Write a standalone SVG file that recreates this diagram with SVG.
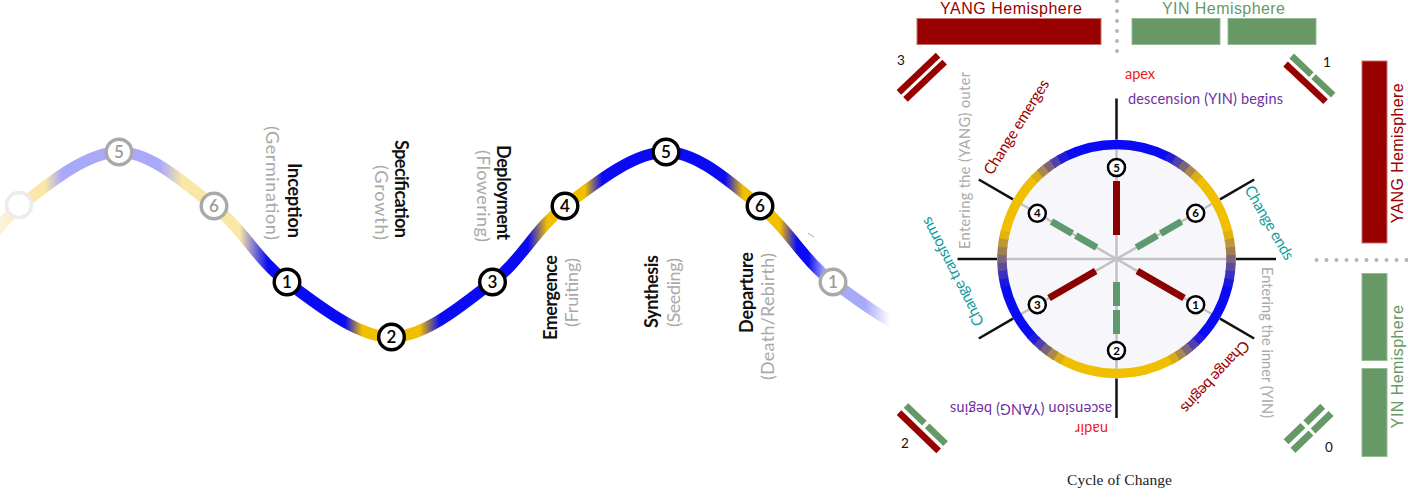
<svg xmlns="http://www.w3.org/2000/svg" width="1408" height="497" viewBox="0 0 1408 497">
<style>
.wl{font-family:Lato,"Open Sans","Noto Sans",sans-serif;font-size:18px}
.b{font-weight:700;fill:#111}
.g{fill:#a9a9a9}
.wn circle{fill:#fff;stroke:#000;stroke-width:3.4}
.wn text{font-family:Lato,"Noto Sans",sans-serif;font-size:17px;font-weight:600;text-anchor:middle;fill:#000}
.wf circle{fill:#fff;stroke:#a9a9a9;stroke-width:3.4}
.wf text{font-family:Lato,"Noto Sans",sans-serif;font-size:17px;font-weight:600;text-anchor:middle;fill:#9a9a9a}
.rs{fill:none;stroke-width:9.5}
.spoke{stroke:#c2c2c2;stroke-width:2.5}
.tick{stroke:#111;stroke-width:2.5}
.yang{stroke:#8b0000;stroke-width:7}
.yin{stroke:#5f9a6f;stroke-width:7}
.rn circle{fill:#fff;stroke:#000;stroke-width:2.5}
.rn text{font-family:Lato,"Noto Sans",sans-serif;font-size:11.5px;font-weight:700;text-anchor:middle;fill:#000}
.cl{font-family:Lato,"Open Sans","Noto Sans",sans-serif;font-size:14.5px}
.cl15{font-family:Lato,"Open Sans","Noto Sans",sans-serif;font-size:15.5px}
.hs{font-family:"Liberation Sans",Arial,sans-serif;font-size:16px}
.rbar{fill:#990000;stroke:#c87070;stroke-width:1}
.gbar{fill:#669966;stroke:#94bb94;stroke-width:1}
.rd{fill:#990000}
.gd{fill:#669966}
.dots{stroke:#b5b5b5;stroke-width:4;stroke-linecap:round;stroke-dasharray:0 10}
.num{font-family:Lato,"Noto Sans",sans-serif;font-size:13.5px;fill:#111}
</style>
<defs>
<linearGradient id="waveGrad" gradientUnits="userSpaceOnUse" x1="0" y1="0" x2="1000" y2="0">
<stop offset="0" stop-color="#fbf4dc"/>
<stop offset="0.035" stop-color="#f8e7a6"/>
<stop offset="0.045" stop-color="#f8e7a6"/>
<stop offset="0.062" stop-color="#a9a9fa"/>
<stop offset="0.160" stop-color="#a9a9fa"/>
<stop offset="0.182" stop-color="#f8e7a6"/>
<stop offset="0.240" stop-color="#f8e7a6"/>
<stop offset="0.268" stop-color="#0a0af5"/>
<stop offset="0.345" stop-color="#0a0af5"/>
<stop offset="0.362" stop-color="#efbf00"/>
<stop offset="0.420" stop-color="#efbf00"/>
<stop offset="0.440" stop-color="#0a0af5"/>
<stop offset="0.528" stop-color="#0a0af5"/>
<stop offset="0.547" stop-color="#efbf00"/>
<stop offset="0.585" stop-color="#efbf00"/>
<stop offset="0.602" stop-color="#0a0af5"/>
<stop offset="0.725" stop-color="#0a0af5"/>
<stop offset="0.743" stop-color="#efbf00"/>
<stop offset="0.780" stop-color="#efbf00"/>
<stop offset="0.797" stop-color="#0a0af5"/>
<stop offset="0.808" stop-color="#0a0af5"/>
<stop offset="0.825" stop-color="#a9a9fa"/>
<stop offset="0.865" stop-color="#a9a9fa"/>
<stop offset="0.890" stop-color="#ffffff"/>
<stop offset="1" stop-color="#ffffff"/>
</linearGradient>
</defs>
<rect x="0" y="0" width="1408" height="497" fill="#fff"/>

<g id="connectors">
<path id="wave" d="M -48 282 C -18.7 260.2 -7.8 227.7 20 206 C 47.8 184.3 86.7 152 119 152 C 151.3 152 186 184.3 214 206 C 242 227.7 257.4 260.2 287 282 C 316.6 303.8 357.25 337 391.5 337 C 425.75 337 463.6 303.8 492.5 282 C 521.4 260.2 536.1 227.7 565 206 C 593.9 184.3 633.5 152 666 152 C 698.5 152 732.2 184.3 760 206 C 787.8 227.7 803 260.2 833 282 C 863 303.8 904.7 337 940 337" fill="none" stroke="url(#waveGrad)" stroke-width="11.5"/>
<line x1="808" y1="233" x2="814" y2="237" stroke="#c4c4c4" stroke-width="1.5"/>
</g>

<g id="wave-node-start"><circle cx="19" cy="205" r="12.5" fill="#fff" stroke="#ececec" stroke-width="3.5"/></g>
<g id="wave-node-5-faded" class="wf"><circle cx="119" cy="152" r="12.8"/><text x="119" y="158">5</text></g>
<g id="wave-node-6-faded" class="wf"><circle cx="214" cy="206" r="12.8"/><text x="214" y="212">6</text></g>
<g id="wave-node-1" class="wn"><circle cx="287" cy="282" r="12.8"/><text x="287" y="288">1</text></g>
<g id="wave-node-2" class="wn"><circle cx="391.5" cy="337" r="12.8"/><text x="391.5" y="343">2</text></g>
<g id="wave-node-3" class="wn"><circle cx="492.5" cy="282" r="12.8"/><text x="492.5" y="288">3</text></g>
<g id="wave-node-4" class="wn"><circle cx="565" cy="206" r="12.8"/><text x="565" y="212">4</text></g>
<g id="wave-node-5" class="wn"><circle cx="666" cy="152" r="12.8"/><text x="666" y="158">5</text></g>
<g id="wave-node-6" class="wn"><circle cx="760" cy="206" r="12.8"/><text x="760" y="212">6</text></g>
<g id="wave-node-1-faded" class="wf"><circle cx="833" cy="282" r="12.8"/><text x="833" y="288">1</text></g>

<g id="wave-labels" class="wl">
<text class="b" transform="translate(288,163) rotate(90)" textLength="75">Inception</text>
<text class="g" transform="translate(266,126) rotate(90)" textLength="114">(Germination)</text>
<text class="b" transform="translate(395,140) rotate(90)" textLength="98">Specification</text>
<text class="g" transform="translate(375,165) rotate(90)" textLength="75">(Growth)</text>
<text class="b" transform="translate(497,145) rotate(90)" textLength="95">Deployment</text>
<text class="g" transform="translate(477,150) rotate(90)" textLength="92">(Flowering)</text>
<text class="b" transform="translate(557,340) rotate(-90)" textLength="85">Emergence</text>
<text class="g" transform="translate(578,327) rotate(-90)" textLength="69">(Fruiting)</text>
<text class="b" transform="translate(658,328) rotate(-90)" textLength="73">Synthesis</text>
<text class="g" transform="translate(680,327) rotate(-90)" textLength="69">(Seeding)</text>
<text class="b" transform="translate(753,333) rotate(-90)" textLength="81">Departure</text>
<text class="g" transform="translate(774,380) rotate(-90)" textLength="127">(Death/Rebirth)</text>
</g>

<g id="hemisphere-top">
<text class="hs" x="1011" y="14" text-anchor="middle" fill="#990000" textLength="142">YANG Hemisphere</text>
<rect class="rbar" x="917" y="18.5" width="184" height="26"/>
<text class="hs" x="1223.5" y="14" text-anchor="middle" fill="#669966" textLength="123">YIN Hemisphere</text>
<rect class="gbar" x="1132" y="18.5" width="88" height="26"/>
<rect class="gbar" x="1228" y="18.5" width="88" height="26"/>
<line class="dots" x1="1117" y1="1" x2="1117" y2="61"/>
</g>
<g id="hemisphere-right">
<rect class="rbar" x="1362" y="61" width="25" height="182"/>
<text class="hs" transform="translate(1403,153.3) rotate(-90)" text-anchor="middle" fill="#990000" textLength="140">YANG Hemisphere</text>
<rect class="gbar" x="1362" y="273.5" width="25" height="87"/>
<rect class="gbar" x="1362" y="368.5" width="25" height="88"/>
<text class="hs" transform="translate(1403,366.7) rotate(-90)" text-anchor="middle" fill="#669966" textLength="123">YIN Hemisphere</text>
<line class="dots" x1="1316.5" y1="260" x2="1408" y2="260"/>
</g>

<g id="digram-3">
<g transform="translate(921.7,77.2) rotate(-43.5)">
<rect class="rd" x="-27" y="-8" width="54" height="6.6"/>
<rect class="rd" x="-27" y="1.6" width="54" height="6.6"/>
</g>
<text class="num" x="901" y="65" text-anchor="middle">3</text>
</g>
<g id="digram-1">
<g transform="translate(1309,79.2) rotate(43.3)">
<rect class="rd" x="-27.5" y="1.7" width="55" height="6.6"/>
<rect class="gd" x="-28.5" y="-8.3" width="27" height="6.6"/>
<rect class="gd" x="1.5" y="-8.3" width="27" height="6.6"/>
</g>
<text class="num" x="1327" y="67" text-anchor="middle">1</text>
</g>
<g id="digram-2">
<g transform="translate(922.3,428.2) rotate(44)">
<rect class="rd" x="-27.5" y="1.7" width="55" height="6.6"/>
<rect class="gd" x="-27.5" y="-8.3" width="25.5" height="6.6"/>
<rect class="gd" x="2" y="-8.3" width="25.5" height="6.6"/>
</g>
<text class="num" x="905" y="448" text-anchor="middle">2</text>
</g>
<g id="digram-0">
<g transform="translate(1308.2,428) rotate(-44)">
<rect class="gd" x="-25.5" y="-9" width="23.5" height="7"/>
<rect class="gd" x="2" y="-9" width="23.5" height="7"/>
<rect class="gd" x="-26.5" y="2" width="25" height="7"/>
<rect class="gd" x="1.5" y="2" width="25" height="7"/>
</g>
<text class="num" x="1329" y="452" text-anchor="middle">0</text>
</g>

<g id="cycle">
<circle cx="1116.5" cy="259" r="110" fill="#f7f7fb"/>
<g id="spokes">
<line class="spoke" x1="1116.5" y1="149" x2="1116.5" y2="369"/>
<line class="spoke" x1="1006.5" y1="259" x2="1226.5" y2="259"/>
<line class="spoke" x1="1021.2" y1="204" x2="1211.8" y2="314"/>
<line class="spoke" x1="1021.2" y1="314" x2="1211.8" y2="204"/>
</g>
<g id="lines">
<line class="yang" x1="1116.5" y1="181" x2="1116.5" y2="235"/>
<line class="yang" x1="1095.7" y1="271" x2="1049" y2="298"/>
<line class="yang" x1="1137.3" y1="271" x2="1184" y2="298"/>
<line class="yin" x1="1096.6" y1="247.5" x2="1075.8" y2="235.5"/>
<line class="yin" x1="1072.3" y1="233.5" x2="1051.5" y2="221.5"/>
<line class="yin" x1="1136.4" y1="247.5" x2="1157.2" y2="235.5"/>
<line class="yin" x1="1160.7" y1="233.5" x2="1181.5" y2="221.5"/>
<line class="yin" x1="1116.5" y1="282" x2="1116.5" y2="306"/>
<line class="yin" x1="1116.5" y1="310" x2="1116.5" y2="334"/>
</g>
<g id="ring">
<circle class="rs" cx="1116.5" cy="259" r="114.5" pathLength="360" stroke="#0a0af5" stroke-dasharray="52.7 307.3" stroke-dashoffset="-244"/>
<circle class="rs" cx="1116.5" cy="259" r="114.5" pathLength="360" stroke="#211cdc" stroke-dasharray="4.7 355.3" stroke-dashoffset="-296"/>
<circle class="rs" cx="1116.5" cy="259" r="114.5" pathLength="360" stroke="#4f40ac" stroke-dasharray="4.7 355.3" stroke-dashoffset="-300"/>
<circle class="rs" cx="1116.5" cy="259" r="114.5" pathLength="360" stroke="#7c647a" stroke-dasharray="4.7 355.3" stroke-dashoffset="-304"/>
<circle class="rs" cx="1116.5" cy="259" r="114.5" pathLength="360" stroke="#aa894a" stroke-dasharray="4.7 355.3" stroke-dashoffset="-308"/>
<circle class="rs" cx="1116.5" cy="259" r="114.5" pathLength="360" stroke="#d8ad18" stroke-dasharray="4.7 355.3" stroke-dashoffset="-312"/>
<circle class="rs" cx="1116.5" cy="259" r="114.5" pathLength="360" stroke="#efbf00" stroke-dasharray="30.7 329.3" stroke-dashoffset="-316"/>
<circle class="rs" cx="1116.5" cy="259" r="114.5" pathLength="360" stroke="#dfb211" stroke-dasharray="4.7 355.3" stroke-dashoffset="-346"/>
<circle class="rs" cx="1116.5" cy="259" r="114.5" pathLength="360" stroke="#be9834" stroke-dasharray="4.7 355.3" stroke-dashoffset="-350"/>
<circle class="rs" cx="1116.5" cy="259" r="114.5" pathLength="360" stroke="#9d7e58" stroke-dasharray="4.7 355.3" stroke-dashoffset="-354"/>
<circle class="rs" cx="1116.5" cy="259" r="114.5" pathLength="360" stroke="#7c647a" stroke-dasharray="4.7 355.3" stroke-dashoffset="-358"/>
<circle class="rs" cx="1116.5" cy="259" r="114.5" pathLength="360" stroke="#5c4b9e" stroke-dasharray="4.7 355.3" stroke-dashoffset="-2"/>
<circle class="rs" cx="1116.5" cy="259" r="114.5" pathLength="360" stroke="#3b31c1" stroke-dasharray="4.7 355.3" stroke-dashoffset="-6"/>
<circle class="rs" cx="1116.5" cy="259" r="114.5" pathLength="360" stroke="#1a17e4" stroke-dasharray="4.7 355.3" stroke-dashoffset="-10"/>
<circle class="rs" cx="1116.5" cy="259" r="114.5" pathLength="360" stroke="#0a0af5" stroke-dasharray="28.7 331.3" stroke-dashoffset="-14"/>
<circle class="rs" cx="1116.5" cy="259" r="114.5" pathLength="360" stroke="#211cdc" stroke-dasharray="4.7 355.3" stroke-dashoffset="-42"/>
<circle class="rs" cx="1116.5" cy="259" r="114.5" pathLength="360" stroke="#4f40ac" stroke-dasharray="4.7 355.3" stroke-dashoffset="-46"/>
<circle class="rs" cx="1116.5" cy="259" r="114.5" pathLength="360" stroke="#7c647a" stroke-dasharray="4.7 355.3" stroke-dashoffset="-50"/>
<circle class="rs" cx="1116.5" cy="259" r="114.5" pathLength="360" stroke="#aa894a" stroke-dasharray="4.7 355.3" stroke-dashoffset="-54"/>
<circle class="rs" cx="1116.5" cy="259" r="114.5" pathLength="360" stroke="#d8ad18" stroke-dasharray="4.7 355.3" stroke-dashoffset="-58"/>
<circle class="rs" cx="1116.5" cy="259" r="114.5" pathLength="360" stroke="#efbf00" stroke-dasharray="56.7 303.3" stroke-dashoffset="-62"/>
<circle class="rs" cx="1116.5" cy="259" r="114.5" pathLength="360" stroke="#d8ad18" stroke-dasharray="4.7 355.3" stroke-dashoffset="-118"/>
<circle class="rs" cx="1116.5" cy="259" r="114.5" pathLength="360" stroke="#aa894a" stroke-dasharray="4.7 355.3" stroke-dashoffset="-122"/>
<circle class="rs" cx="1116.5" cy="259" r="114.5" pathLength="360" stroke="#7c647a" stroke-dasharray="4.7 355.3" stroke-dashoffset="-126"/>
<circle class="rs" cx="1116.5" cy="259" r="114.5" pathLength="360" stroke="#4f40ac" stroke-dasharray="4.7 355.3" stroke-dashoffset="-130"/>
<circle class="rs" cx="1116.5" cy="259" r="114.5" pathLength="360" stroke="#211cdc" stroke-dasharray="4.7 355.3" stroke-dashoffset="-134"/>
<circle class="rs" cx="1116.5" cy="259" r="114.5" pathLength="360" stroke="#0a0af5" stroke-dasharray="28.7 331.3" stroke-dashoffset="-138"/>
<circle class="rs" cx="1116.5" cy="259" r="114.5" pathLength="360" stroke="#1a17e4" stroke-dasharray="4.7 355.3" stroke-dashoffset="-166"/>
<circle class="rs" cx="1116.5" cy="259" r="114.5" pathLength="360" stroke="#3b31c1" stroke-dasharray="4.7 355.3" stroke-dashoffset="-170"/>
<circle class="rs" cx="1116.5" cy="259" r="114.5" pathLength="360" stroke="#5c4b9e" stroke-dasharray="4.7 355.3" stroke-dashoffset="-174"/>
<circle class="rs" cx="1116.5" cy="259" r="114.5" pathLength="360" stroke="#7c647a" stroke-dasharray="4.7 355.3" stroke-dashoffset="-178"/>
<circle class="rs" cx="1116.5" cy="259" r="114.5" pathLength="360" stroke="#9d7e58" stroke-dasharray="4.7 355.3" stroke-dashoffset="-182"/>
<circle class="rs" cx="1116.5" cy="259" r="114.5" pathLength="360" stroke="#be9834" stroke-dasharray="4.7 355.3" stroke-dashoffset="-186"/>
<circle class="rs" cx="1116.5" cy="259" r="114.5" pathLength="360" stroke="#dfb211" stroke-dasharray="4.7 355.3" stroke-dashoffset="-190"/>
<circle class="rs" cx="1116.5" cy="259" r="114.5" pathLength="360" stroke="#efbf00" stroke-dasharray="30.7 329.3" stroke-dashoffset="-194"/>
<circle class="rs" cx="1116.5" cy="259" r="114.5" pathLength="360" stroke="#d8ad18" stroke-dasharray="4.7 355.3" stroke-dashoffset="-224"/>
<circle class="rs" cx="1116.5" cy="259" r="114.5" pathLength="360" stroke="#aa894a" stroke-dasharray="4.7 355.3" stroke-dashoffset="-228"/>
<circle class="rs" cx="1116.5" cy="259" r="114.5" pathLength="360" stroke="#7c647a" stroke-dasharray="4.7 355.3" stroke-dashoffset="-232"/>
<circle class="rs" cx="1116.5" cy="259" r="114.5" pathLength="360" stroke="#4f40ac" stroke-dasharray="4.7 355.3" stroke-dashoffset="-236"/>
<circle class="rs" cx="1116.5" cy="259" r="114.5" pathLength="360" stroke="#211cdc" stroke-dasharray="4.7 355.3" stroke-dashoffset="-240"/>
</g>
<g id="ticks">
<line class="tick" x1="1116.5" y1="139.5" x2="1116.5" y2="98.5"/>
<line class="tick" x1="1116.5" y1="378.5" x2="1116.5" y2="418"/>
<line class="tick" x1="997" y1="259" x2="957.5" y2="259"/>
<line class="tick" x1="1236" y1="259" x2="1276" y2="259"/>
<line class="tick" x1="1013" y1="199.3" x2="978.8" y2="179.5"/>
<line class="tick" x1="1220" y1="199.3" x2="1254.2" y2="179.5"/>
<line class="tick" x1="1013" y1="318.7" x2="978.8" y2="338.5"/>
<line class="tick" x1="1220" y1="318.7" x2="1254.2" y2="338.5"/>
</g>
</g>

<g id="ring-node-5" class="rn"><circle cx="1116.5" cy="167.5" r="8.5"/><text x="1116.5" y="171.6">5</text></g>
<g id="ring-node-4" class="rn"><circle cx="1037.3" cy="213.3" r="8.5"/><text x="1037.3" y="217.4">4</text></g>
<g id="ring-node-6" class="rn"><circle cx="1195.7" cy="213.3" r="8.5"/><text x="1195.7" y="217.4">6</text></g>
<g id="ring-node-3" class="rn"><circle cx="1037.3" cy="304.7" r="8.5"/><text x="1037.3" y="308.8">3</text></g>
<g id="ring-node-1" class="rn"><circle cx="1195.7" cy="304.7" r="8.5"/><text x="1195.7" y="308.8">1</text></g>
<g id="ring-node-2" class="rn"><circle cx="1116.5" cy="350.5" r="8.5"/><text x="1116.5" y="354.6">2</text></g>

<g id="ring-labels">
<text class="cl" x="1125" y="79" fill="#ee1c1c" textLength="30">apex</text>
<text class="cl" x="1128" y="104" fill="#7030a0" textLength="155">descension (YIN) begins</text>
<text class="cl" transform="translate(1108,423.5) rotate(180)" fill="#ee1c1c" textLength="33">nadir</text>
<text class="cl" transform="translate(1112,403.5) rotate(180)" fill="#7030a0" textLength="162">ascension (YANG) begins</text>
<text class="cl" transform="translate(970,249) rotate(-90)" fill="#aaaaaa" textLength="177">Entering the (YANG) outer</text>
<text class="cl" transform="translate(1262,267) rotate(90)" fill="#aaaaaa" textLength="151">Entering the inner (YIN)</text>
<text class="cl15" transform="translate(992,176) rotate(-58)" fill="#990000" textLength="109">Change emerges</text>
<text class="cl15" transform="translate(1244,189.5) rotate(60)" fill="#139a9a" textLength="83">Change ends</text>
<text class="cl15" transform="translate(1243,339.5) rotate(133)" fill="#990000" textLength="93">Change begins</text>
<text class="cl15" transform="translate(984.5,322.7) rotate(243)" fill="#139a9a" textLength="120">Change transforms</text>
</g>

<g id="caption">
<text x="1119.5" y="485" text-anchor="middle" font-family="'Liberation Serif','Times New Roman',serif" font-size="15.5" fill="#222" textLength="105">Cycle of Change</text>
</g>
</svg>
